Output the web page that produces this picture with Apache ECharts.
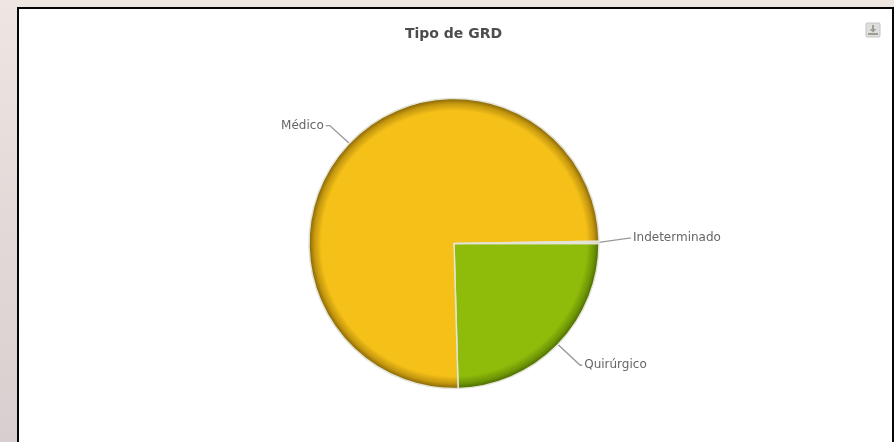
<!DOCTYPE html>
<html>
<head>
<meta charset="utf-8">
<style>
  html, body { margin: 0; padding: 0; width: 894px; height: 442px; overflow: hidden;
    background: linear-gradient(180deg, #ede6e1 0%, #d8cecf 100%); }
  #frame { position: absolute; left: 17px; top: 7px; width: 873px; height: 440px;
    background: #fff; border: 2px solid #050505; box-sizing: content-box; }
  #chart { position: absolute; left: 0; top: 0; width: 894px; height: 442px; }
</style>
<script src="https://cdn.jsdelivr.net/npm/echarts@6/dist/echarts.min.js"></script>
</head>
<body>
<div id="frame"></div>
<div id="chart"></div>
<script>
  const chartTitle = 'Tipo de GRD';
  const categories = ['Quirúrgico', 'Médico', 'Indeterminado'];
  const shares = [24.55, 75.2, 0.25];

  const centre = [454, 243.5];
  const radius = 145;

  // Solid fill with a darker band towards the rim of the disc
  function rimFill(base, mid, rim) {
    return {
      type: 'radial', x: centre[0], y: centre[1], r: radius, global: true,
      colorStops: [
        { offset: 0, color: base },
        { offset: 0.915, color: base },
        { offset: 0.965, color: mid },
        { offset: 1, color: rim }
      ]
    };
  }

  const fills = [
    rimFill('#8fbb0b', '#6f9705', '#4a6a02'),
    rimFill('#f5c018', '#c4970f', '#836207'),
    rimFill('#e4e4d4', '#d4d4c4', '#b8b8a8')
  ];
  const lineSegments = [[31, 2], [27, 4], [30, 2]];
  const labelShift = [-1, 1, -4];

  const chart = echarts.init(document.getElementById('chart'), null, { renderer: 'canvas' });
  chart.setOption({
    animation: false,
    backgroundColor: 'transparent',
    title: {
      text: chartTitle, left: 453.5, top: 27, textAlign: 'center', padding: 0,
      textStyle: { fontFamily: 'DejaVu Sans', fontSize: 14, fontWeight: 'bold', color: '#4d4d4d' }
    },
    toolbox: {
      right: 16, top: 25, itemSize: 10, showTitle: false, padding: 0,
      feature: {
        saveAsImage: {
          icon: 'path://M4 0H6V4H8.5L5 7.5L1.5 4H4ZM0 8H10V10H0Z',
          iconStyle: { color: '#9a9f8e', borderColor: '#9a9f8e', borderWidth: 0 }
        }
      }
    },
    graphic: [{
      type: 'rect', z: -1, silent: true,
      shape: { x: 866, y: 23, width: 14, height: 14, r: 1 },
      style: { fill: '#dedede', stroke: '#c4c4c4', lineWidth: 1 }
    }],
    series: [{
      type: 'pie',
      center: centre,
      radius: [0, radius],
      startAngle: 0,
      clockwise: true,
      avoidLabelOverlap: false,
      itemStyle: { borderColor: '#e3e4d6', borderWidth: 1.5 },
      label: {
        show: true, formatter: '{b}', fontFamily: 'DejaVu Sans', fontSize: 12,
        color: '#666666', padding: [0, 1], distanceToLabelLine: 1
      },
      labelLine: { show: true, smooth: false, lineStyle: { color: '#999999', width: 1.4 } },
      // Nudge a label vertically and carry the outer end of its leader line along
      labelLayout: (p) => {
        const dy = labelShift[p.dataIndex];
        return {
          dy,
          labelLinePoints: p.labelLinePoints.map((pt, i) => (i ? [pt[0], pt[1] + dy] : pt))
        };
      },
      emphasis: { disabled: true },
      data: categories.map((name, i) => ({
        name,
        value: shares[i],
        itemStyle: { color: fills[i] },
        labelLine: { length: lineSegments[i][0], length2: lineSegments[i][1] }
      }))
    }]
  });
</script>
</body>
</html>
